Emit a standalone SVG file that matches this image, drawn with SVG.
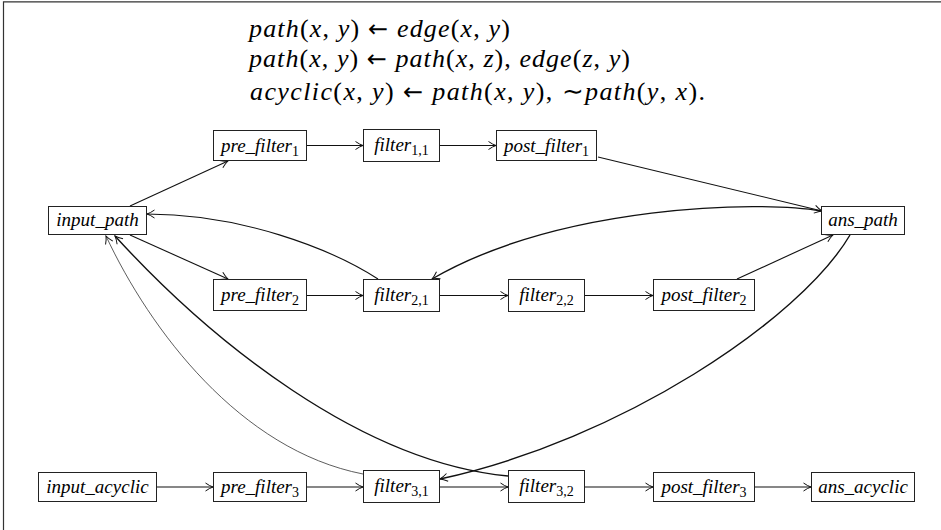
<svg xmlns="http://www.w3.org/2000/svg" width="941" height="530" viewBox="0 0 941 530">
<style>
.frame{stroke:#333;stroke-width:1.2;fill:none}
.box{fill:#fff;stroke:#222;stroke-width:1}
.lbl{font-family:'Liberation Serif','Times New Roman',serif;font-style:italic;font-size:19px;fill:#000;text-anchor:middle}
.sub{font-style:normal;font-size:14px}
.eq{font-family:'Liberation Serif','Times New Roman',serif;font-style:italic;font-size:26px;fill:#000}
.up{font-style:normal}
.arr{font-style:normal;font-family:'DejaVu Sans',sans-serif;font-size:24px}
.c{fill:none;stroke:#111;stroke-width:1.1}
.thin{stroke-width:0.8;stroke:#333}
.thick{stroke-width:1.4}
</style>
<defs>
<marker id="ah" viewBox="-9 -5 11 10" refX="0" refY="0" markerWidth="11" markerHeight="10" markerUnits="userSpaceOnUse" orient="auto">
<path d="M-7.5,-4 Q-3.2,-1 0,0 Q-3.2,1 -7.5,4" fill="none" stroke="#111" stroke-width="1"/>
</marker>
</defs>
<rect width="941" height="530" fill="#fff"/>
<path class="frame" d="M3.5,530 L3.5,1.8 L941,1.8"/>

<g id="equations">
<text class="eq" x="249" y="37" textLength="261" lengthAdjust="spacing">path<tspan class="up">(</tspan>x<tspan class="up">, </tspan>y<tspan class="up">)</tspan> <tspan class="arr">←</tspan> edge<tspan class="up">(</tspan>x<tspan class="up">, </tspan>y<tspan class="up">)</tspan></text>
<text class="eq" x="249" y="67" textLength="381" lengthAdjust="spacing">path<tspan class="up">(</tspan>x<tspan class="up">, </tspan>y<tspan class="up">)</tspan> <tspan class="arr">←</tspan> path<tspan class="up">(</tspan>x<tspan class="up">, </tspan>z<tspan class="up">), </tspan>edge<tspan class="up">(</tspan>z<tspan class="up">, </tspan>y<tspan class="up">)</tspan></text>
<text class="eq" x="250" y="100" textLength="455" lengthAdjust="spacing">acyclic<tspan class="up">(</tspan>x<tspan class="up">, </tspan>y<tspan class="up">)</tspan> <tspan class="arr">←</tspan> path<tspan class="up">(</tspan>x<tspan class="up">, </tspan>y<tspan class="up">), ∼</tspan>path<tspan class="up">(</tspan>y<tspan class="up">, </tspan>x<tspan class="up">).</tspan></text>
</g>

<g id="connectors">
<path class="c" marker-end="url(#ah)" d="M307,145.5 L363,145.5"/>
<path class="c" marker-end="url(#ah)" d="M440,145.5 L496,145.5"/>
<path class="c" marker-end="url(#ah)" d="M307,295.5 L363,295.5"/>
<path class="c" marker-end="url(#ah)" d="M440,295.5 L508,295.5"/>
<path class="c" marker-end="url(#ah)" d="M585,295.5 L653,295.5"/>
<path class="c" marker-end="url(#ah)" d="M157,487 L213,487"/>
<path class="c" marker-end="url(#ah)" d="M307,487 L363,487"/>
<path class="c" marker-end="url(#ah)" d="M440,487 L508,487"/>
<path class="c" marker-end="url(#ah)" d="M585,487 L653,487"/>
<path class="c" marker-end="url(#ah)" d="M755,487 L811,487"/>
<path class="c" marker-end="url(#ah)" d="M130,206 L228,161"/>
<path class="c" marker-end="url(#ah)" d="M130,235 L228,279"/>
<path class="c" marker-end="url(#ah)" d="M598,157 L822,211"/>
<path class="c" marker-end="url(#ah)" d="M737,279 L833,235"/>
<path class="c" marker-end="url(#ah)" d="M378,279 C330,248 240,214 147,214"/>
<path class="c thick" marker-end="url(#ah)" d="M821,211 C760,200 560,205 432,279"/>
<path class="c thick" marker-end="url(#ah)" d="M850,235 C800,320 620,440 440,479"/>
<path class="c thin" marker-end="url(#ah)" d="M363,474 C240,450 150,330 106,236"/>
<path class="c thick" marker-end="url(#ah)" d="M508,476 C360,462 210,340 115,236"/>
</g>

<g id="pre_filter1"><rect class="box" x="213.5" y="130.5" width="93" height="30"/><text class="lbl" x="260" y="151.5">pre_filter<tspan class="sub" dy="4">1</tspan></text></g>
<g id="filter11"><rect class="box" x="363.5" y="129.5" width="76" height="32"/><text class="lbl" x="401.5" y="151">filter<tspan class="sub" dy="4">1,1</tspan></text></g>
<g id="post_filter1"><rect class="box" x="496.5" y="130.5" width="100" height="30"/><text class="lbl" x="546.5" y="151.5">post_filter<tspan class="sub" dy="4">1</tspan></text></g>
<g id="input_path"><rect class="box" x="48.5" y="206.5" width="98" height="28"/><text class="lbl" x="97.5" y="226">input_path</text></g>
<g id="ans_path"><rect class="box" x="821.5" y="206.5" width="83" height="28"/><text class="lbl" x="863" y="226">ans_path</text></g>
<g id="pre_filter2"><rect class="box" x="213.5" y="279.5" width="93" height="31"/><text class="lbl" x="260" y="301">pre_filter<tspan class="sub" dy="4">2</tspan></text></g>
<g id="filter21"><rect class="box" x="363.5" y="279.5" width="76" height="32"/><text class="lbl" x="401.5" y="301">filter<tspan class="sub" dy="4">2,1</tspan></text></g>
<g id="filter22"><rect class="box" x="508.5" y="279.5" width="76" height="32"/><text class="lbl" x="546.5" y="301">filter<tspan class="sub" dy="4">2,2</tspan></text></g>
<g id="post_filter2"><rect class="box" x="653.5" y="279.5" width="101" height="31"/><text class="lbl" x="704" y="301">post_filter<tspan class="sub" dy="4">2</tspan></text></g>
<g id="input_acyclic"><rect class="box" x="38.5" y="472.5" width="118" height="29"/><text class="lbl" x="97.5" y="492.5">input_acyclic</text></g>
<g id="pre_filter3"><rect class="box" x="213.5" y="472.5" width="93" height="29"/><text class="lbl" x="260" y="492.5">pre_filter<tspan class="sub" dy="4">3</tspan></text></g>
<g id="filter31"><rect class="box" x="363.5" y="470.5" width="76" height="32"/><text class="lbl" x="401.5" y="492">filter<tspan class="sub" dy="4">3,1</tspan></text></g>
<g id="filter32"><rect class="box" x="508.5" y="470.5" width="76" height="32"/><text class="lbl" x="546.5" y="492">filter<tspan class="sub" dy="4">3,2</tspan></text></g>
<g id="post_filter3"><rect class="box" x="653.5" y="472.5" width="101" height="29"/><text class="lbl" x="704" y="492.5">post_filter<tspan class="sub" dy="4">3</tspan></text></g>
<g id="ans_acyclic"><rect class="box" x="811.5" y="472.5" width="103" height="29"/><text class="lbl" x="863" y="492.5">ans_acyclic</text></g>
</svg>
